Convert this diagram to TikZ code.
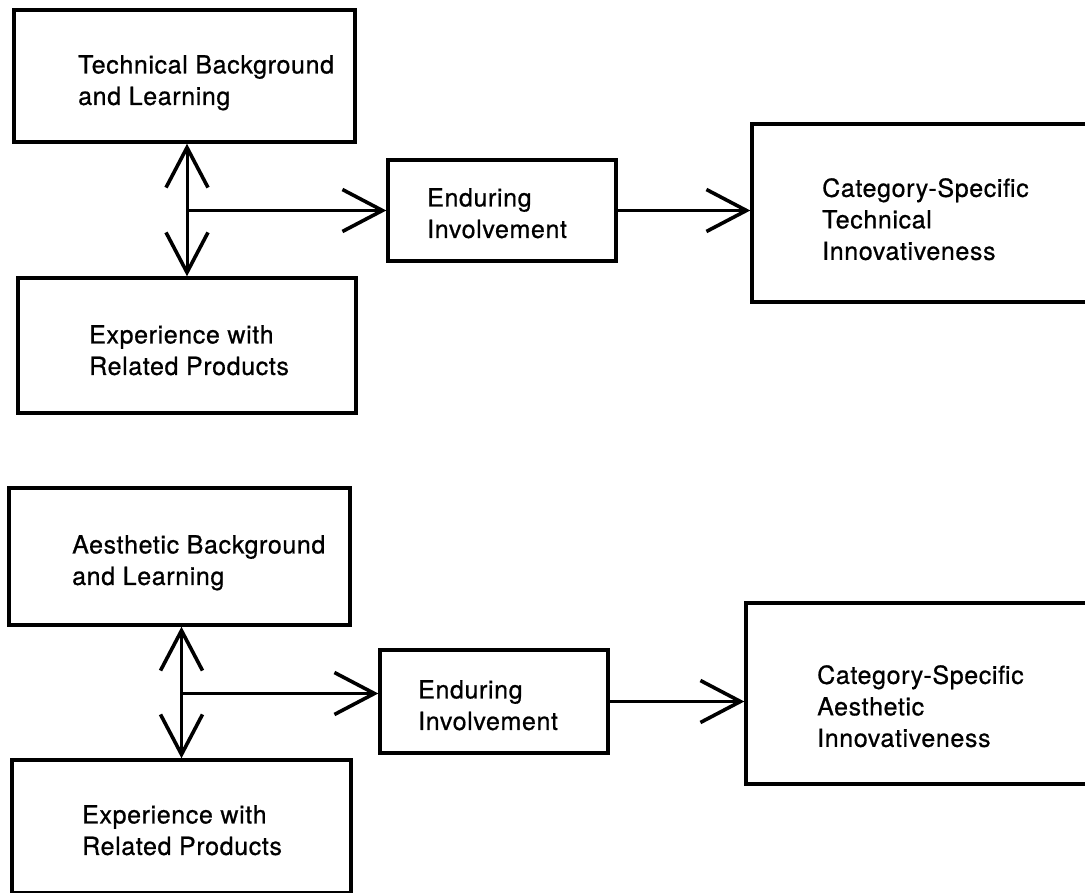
\documentclass[tikz,border=0pt]{standalone}
\usepackage{fontspec}
\setmainfont{TeX Gyre Heros}[LetterSpace=2.5, FakeBold=0.7]
\usetikzlibrary{arrows.meta, calc}

\begin{document}
\begin{tikzpicture}[x=1pt, y=-1pt,
  >={Straight Barb[length=40pt, width=42pt, line width=3.6pt]},
  box/.style={draw, line width=3.4pt, inner sep=0pt},
  lbl/.style={anchor=north west, inner sep=0pt, align=left,
    font=\fontsize{25}{31.5}\selectfont},
  link/.style={line width=3pt}]

% Page frame (right and bottom boxes run off the page)
\useasboundingbox (0,0) rectangle (1085,893);
\clip (0,0) rectangle (1085,893);

% === Technical model ===
\node[box, minimum width=341pt, minimum height=132pt] (tbl) at (184.5,76) {};
\node[box, minimum width=338pt, minimum height=135pt] (exp1) at (187,345.5) {};
\node[box, minimum width=228pt, minimum height=101pt] (ei1) at (502,210.5) {};
\node[box, minimum width=348pt, minimum height=178pt] (cat1) at (926,213) {};

\node[lbl] (tblt) at (78,55) {Technical Background\\and Learning};
\node[lbl] (exp1t) at (89,325) {Experience with\\Related Products};
\node[lbl] (ei1t) at (427,188) {Enduring\\Involvement};
\node[lbl] (cat1t) at (822,178) {Category-Specific\\Technical\\Innovativeness};

\draw[link, <->] (exp1.north |- tbl.south) -- (exp1.north);
\coordinate (j1) at (exp1.north |- ei1.west);
\draw[link, ->] (j1) -- (ei1.west);
\draw[link, ->] (ei1.east) -- (ei1.east -| cat1.west);

% === Aesthetic model ===
\node[box, minimum width=341pt, minimum height=137pt] (abl) at (179.5,556.5) {};
\node[box, minimum width=339pt, minimum height=133pt] (exp2) at (181.5,826.5) {};
\node[box, minimum width=228pt, minimum height=103pt] (ei2) at (494,701.5) {};
\node[box, minimum width=354pt, minimum height=181pt] (cat2) at (923,693.5) {};

\node[lbl] (ablt) at (72,535) {Aesthetic Background\\and Learning};
\node[lbl] (exp2t) at (82,805) {Experience with\\Related Products};
\node[lbl] (ei2t) at (418,680) {Enduring\\Involvement};
\node[lbl] (cat2t) at (817,665) {Category-Specific\\Aesthetic\\Innovativeness};

\draw[link, <->] (exp2.north |- abl.south) -- (exp2.north);
\coordinate (e2in) at ($(ei2.west)+(0,-8)$);
\coordinate (j2) at (exp2.north |- e2in);
\draw[link, ->] (j2) -- (e2in);
\draw[link, ->] (ei2.east) -- (ei2.east -| cat2.west);

\end{tikzpicture}
\end{document}
